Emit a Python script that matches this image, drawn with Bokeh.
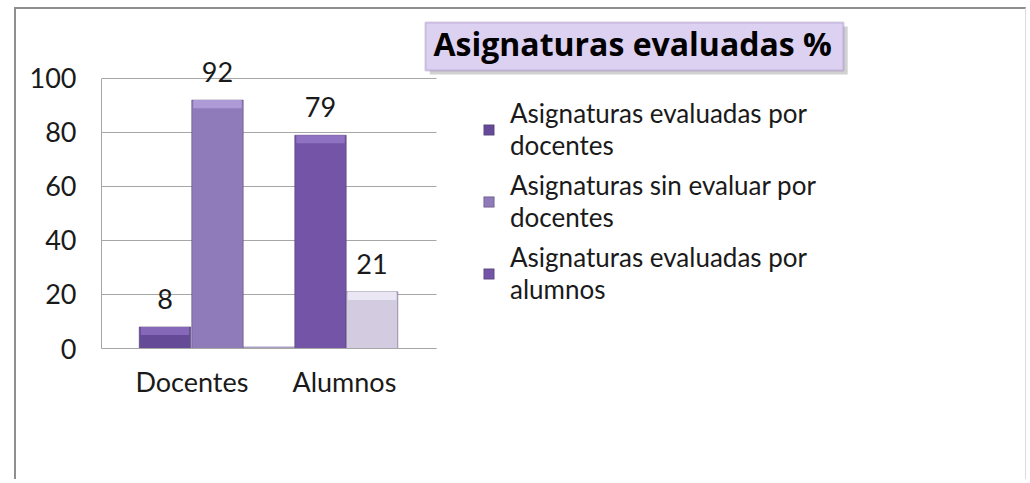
from bokeh.plotting import figure
from bokeh.models import (ColumnDataSource, Range1d, Label, Legend, LegendItem,
                          FixedTicker, BoxAnnotation)
from bokeh.core.properties import value
from bokeh.embed import file_html
from bokeh.resources import INLINE

# ---------------- data ----------------
categories = ["Docentes", "Alumnos"]
title_text = "Asignaturas evaluadas %"

s1_name = "Asignaturas evaluadas por\ndocentes"
s1_cat = [0]          # index into categories
s1_vals = [8]

s2_name = "Asignaturas sin evaluar por\ndocentes"
s2_cat = [0]
s2_vals = [92]

s3_name = "Asignaturas evaluadas por\nalumnos"
s3_cat = [1]
s3_vals = [79]

s4_name = "Asignaturas sin evaluar por alumnos"
s4_cat = [1]
s4_vals = [21]

zero_cat = [0]
zero_vals = [0]

y_ticks = [0, 20, 40, 60, 80, 100]

# ---------------- style ----------------
FONT = "Lato"
FS = "27px"
TXT = "#1a1a1a"
GRID = "#a6a6a6"
W = 0.3075
BEVEL = 3.0
label_pos = [0.54, 1.45]   # where the category labels sit on the axis

p = figure(x_range=Range1d(0, 5.427), y_range=Range1d(0, 123.33),
           width=1012, height=472, output_backend="svg", toolbar_location=None,
           min_border_left=85, min_border_right=18, min_border_top=6,
           min_border_bottom=133)
p.styles = {"margin-left": "14px", "margin-top": "7px",
            "border-left": "2px solid #8f8f8f", "border-top": "2px solid #8f8f8f",
            "border-right": "1px solid #dcdcdc"}
p.outline_line_color = None
p.background_fill_color = "white"
p.border_fill_color = "white"
p.xgrid.grid_line_color = None
p.ygrid.grid_line_color = None

# horizontal grid lines across the category span
ncat = len(categories)
p.segment(x0=[0] * len(y_ticks), x1=[ncat] * len(y_ticks), y0=y_ticks, y1=y_ticks,
          line_color=GRID, line_width=1)

zsrc = ColumnDataSource(dict(x=[c + 1.0 for c in zero_cat], top=zero_vals))
p.vbar(x="x", top="top", bottom=0, width=W, source=zsrc, fill_color="#aaa0c2",
       line_color="#aaa0c2", line_width=4)

series = [
    (s1_cat, s1_vals, -0.121, "#654a98", "#8668b8", s1_name),
    (s2_cat, s2_vals, 0.1925, "#8f7bb9", "#ad9ad6", s2_name),
    (s3_cat, s3_vals, -0.1925, "#7354a6", "#9072c2", s3_name),
    (s4_cat, s4_vals, 0.115, "#d3cbe0", "#ebe6f3", s4_name),
]
renderers = []
for cats, vals, off, col, light, name in series:
    xs = [c + 0.5 + off for c in cats]
    src = ColumnDataSource(dict(x=xs, top=vals, bev=[v - BEVEL for v in vals],
                                lab=[str(v) for v in vals]))
    r = p.vbar(x="x", top="top", bottom=0, width=W, source=src, fill_color=col,
               line_color="#3e2f5c", line_alpha=0.45, line_width=1)
    renderers.append(r)
    p.vbar(x="x", top="top", bottom="bev", width=W * 0.94, source=src,
           fill_color=light, line_color=None)
    p.text(x="x", y="top", text="lab", source=src, text_font=value(FONT),
           text_font_size=FS, text_color=TXT, text_align="center",
           text_baseline="alphabetic", y_offset=-28)

# axes
p.yaxis.ticker = FixedTicker(ticks=y_ticks)
p.yaxis.bounds = (0, 100)
p.yaxis.major_tick_line_color = None
p.yaxis.minor_tick_line_color = None
p.yaxis.axis_line_color = GRID
p.yaxis.major_label_text_font = FONT
p.yaxis.major_label_text_font_size = FS
p.yaxis.major_label_text_color = TXT
p.yaxis.major_label_standoff = 19

p.xaxis.ticker = FixedTicker(ticks=label_pos)
p.xaxis.major_label_overrides = {pos: c for pos, c in zip(label_pos, categories)}
p.xaxis.bounds = (0, ncat)
p.xaxis.major_tick_line_color = None
p.xaxis.minor_tick_line_color = None
p.xaxis.axis_line_color = GRID
p.xaxis.major_label_text_font = FONT
p.xaxis.major_label_text_font_size = FS
p.xaxis.major_label_text_color = TXT
p.xaxis.major_label_standoff = 10

# title box (shadow + box + text)
p.add_layout(BoxAnnotation(left=1.96, right=4.455, top=119.3, bottom=101.5,
                           fill_color="#9a9a9a", fill_alpha=0.45, line_color=None,
                           level="annotation"))
p.add_layout(BoxAnnotation(left=1.934, right=4.43, top=120.74, bottom=102.96,
                           fill_color="#dcd1f1", fill_alpha=1.0,
                           line_color="#8266a8", line_width=2, level="annotation"))
p.add_layout(Label(x=1.982, y=113.0, text=title_text, text_font="Open Sans",
                   text_font_size="32px", text_font_style="bold",
                   text_color="#000000", text_align="left",
                   text_baseline="alphabetic"))

legend = Legend(items=[LegendItem(label=s[5], renderers=[r])
                       for s, r in zip(series[:3], renderers[:3])],
                location=(381, 43), orientation="vertical",
                label_text_font=FONT, label_text_font_size="26px",
                label_text_color=TXT, glyph_width=13, glyph_height=13,
                label_standoff=15, spacing=8, padding=0, margin=0,
                border_line_color=None, background_fill_alpha=0)
p.add_layout(legend, "center")

open("out.html", "w").write(file_html(p, INLINE))
